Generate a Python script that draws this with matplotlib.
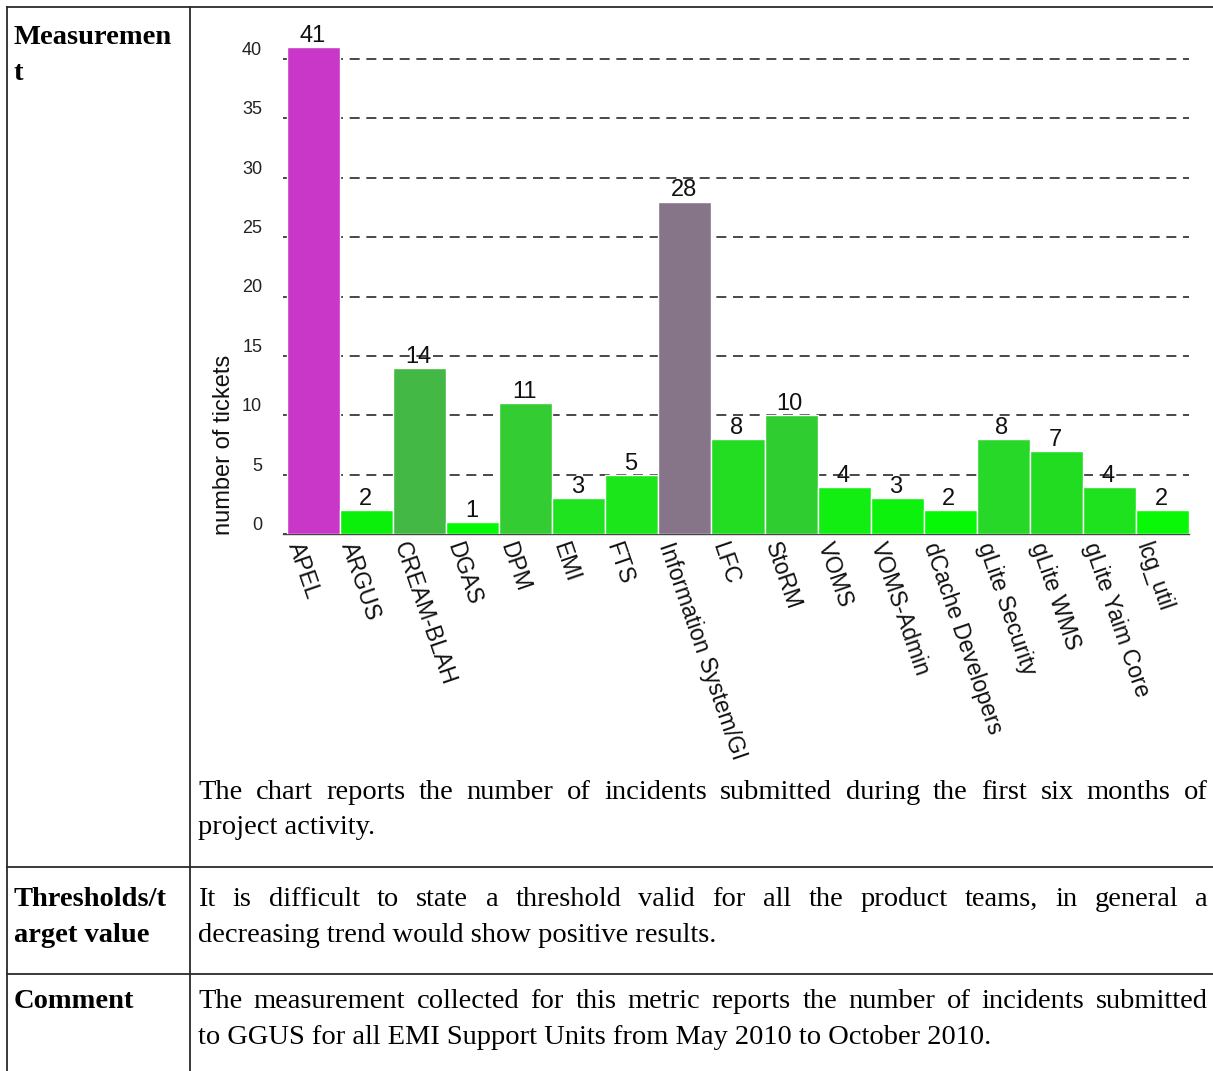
import matplotlib
matplotlib.use("Agg")
import matplotlib.pyplot as plt
import matplotlib.transforms as mtransforms
import numpy as np

W, H = 1213, 1071

PRODUCTS = ["APEL", "ARGUS", "CREAM-BLAH", "DGAS", "DPM", "EMI", "FTS",
            "Information System/GI", "LFC", "StoRM", "VOMS", "VOMS-Admin",
            "dCache Developers", "gLite Security", "gLite WMS",
            "gLite Yaim Core", "lcg_util"]
TICKETS = [41, 2, 14, 1, 11, 3, 5, 28, 8, 10, 4, 3, 2, 8, 7, 4, 2]
BAR_COLORS = ["#C837C8", "#0AF00A", "#44B844", "#04FA04", "#33CC33",
              "#1FE31F", "#1AE61A", "#867488", "#22DD22", "#30CD30",
              "#12EE12", "#0CF20C", "#06F806", "#28D828", "#22DC22",
              "#1EE21E", "#08F808"]
Y_TICKS = [0, 5, 10, 15, 20, 25, 30, 35, 40]

ROW_LABELS = [["Measuremen", "t"], ["Thresholds/t", "arget value"], ["Comment"]]
ROW_TEXT = [
    ["The chart reports the number of incidents submitted during the first six months of",
     "project activity."],
    ["It is difficult to state a threshold valid for all the product teams, in general a",
     "decreasing trend would show positive results."],
    ["The measurement collected for this metric reports the number of incidents submitted",
     "to GGUS for all EMI Support Units from May 2010 to October 2010."],
]


def fx(x):
    return x / W


def fy(y):
    return 1 - y / H


fig = plt.figure(figsize=(W / 100, H / 100), dpi=100)
fig.patch.set_facecolor("white")

# ---- table frame -------------------------------------------------------
frame = dict(color="#2a2a2a", lw=1.3, transform=fig.transFigure)
fig.add_artist(plt.Line2D([fx(7), 1], [fy(7), fy(7)], **frame))
fig.add_artist(plt.Line2D([fx(7), fx(7)], [fy(7), 0], **frame))
fig.add_artist(plt.Line2D([fx(190), fx(190)], [fy(7), 0], **frame))
for yl in (867, 974):
    fig.add_artist(plt.Line2D([fx(7), 1], [fy(yl), fy(yl)], **frame))

# ---- chart --------------------------------------------------------------
ax_l, ax_r, ax_b = 283, 1189, 534
unit = 59.375 / 5
ymax = 42
ax_t = ax_b - ymax * unit
ax = fig.add_axes([fx(ax_l), fy(ax_b), (ax_r - ax_l) / W, (ax_b - ax_t) / H])

x = np.arange(len(PRODUCTS))
ax.bar(x, TICKETS, width=1.0, color=BAR_COLORS, edgecolor="white",
       linewidth=1.0, zorder=3)
ax.set_xlim(-0.5 - 4 / 53.06, len(PRODUCTS) - 0.5)
ax.set_ylim(0, ymax)

for i, v in enumerate(TICKETS):
    ax.annotate(str(v), (i, v), xytext=(-1, 0), textcoords="offset points",
                ha="center", va="bottom", fontsize=17,
                family="Liberation Sans", color="#111111")

ax.set_axisbelow(True)
ax.yaxis.grid(True, color="#2a2a2a", lw=1.2, linestyle=(0, (6, 4)))
ax.set_yticks(Y_TICKS)
ax.set_yticklabels([str(t) for t in Y_TICKS], fontsize=13,
                   family="Liberation Sans", color="#222222")
for lbl in ax.get_yticklabels():
    lbl.set_va("bottom")
ax.tick_params(axis="y", length=0, pad=15)

ax.set_xticks(x)
ax.set_xticklabels(PRODUCTS, rotation=-71, ha="left", va="top",
                   rotation_mode="anchor", fontsize=16.5,
                   family="Liberation Sans", color="#111111")
ax.tick_params(axis="x", length=0, pad=4)
shift = mtransforms.ScaledTranslation(-0.09, 0, fig.dpi_scale_trans)
for lbl in ax.get_xticklabels():
    lbl.set_transform(lbl.get_transform() + shift)

for s in ("top", "right", "left"):
    ax.spines[s].set_visible(False)
ax.spines["bottom"].set_color("#444444")
ax.spines["bottom"].set_linewidth(1.0)

fig.text(fx(224), fy(535), "number of tickets", rotation=90, ha="center",
         va="bottom", fontsize=17, family="Liberation Sans", color="#111111")

# ---- table text ---------------------------------------------------------
serif = dict(family="Liberation Serif", fontsize=20.5, color="black")
renderer = fig.canvas.get_renderer()


def justified(line, y, left, right):
    words = line.split(" ")
    texts = [fig.text(0, fy(y), w, ha="left", va="baseline", **serif)
             for w in words]
    widths = [t.get_window_extent(renderer).width for t in texts]
    gap = (right - left - sum(widths)) / (len(words) - 1)
    pos = left
    for t, w in zip(texts, widths):
        t.set_x(fx(pos))
        pos += w + gap


label_base = [44, 906, 1008]
text_base = [799, 906, 1008]
spacing = 35.5

for r in range(3):
    for k, s in enumerate(ROW_LABELS[r]):
        fig.text(fx(14), fy(label_base[r] + k * spacing), s, ha="left",
                 va="baseline", fontweight="bold", **serif)
    first, second = ROW_TEXT[r]
    justified(first, text_base[r], 198, 1208)
    fig.text(fx(198), fy(text_base[r] + spacing), second, ha="left",
             va="baseline", **serif)

fig.savefig("out.png", dpi=100, facecolor="white")
